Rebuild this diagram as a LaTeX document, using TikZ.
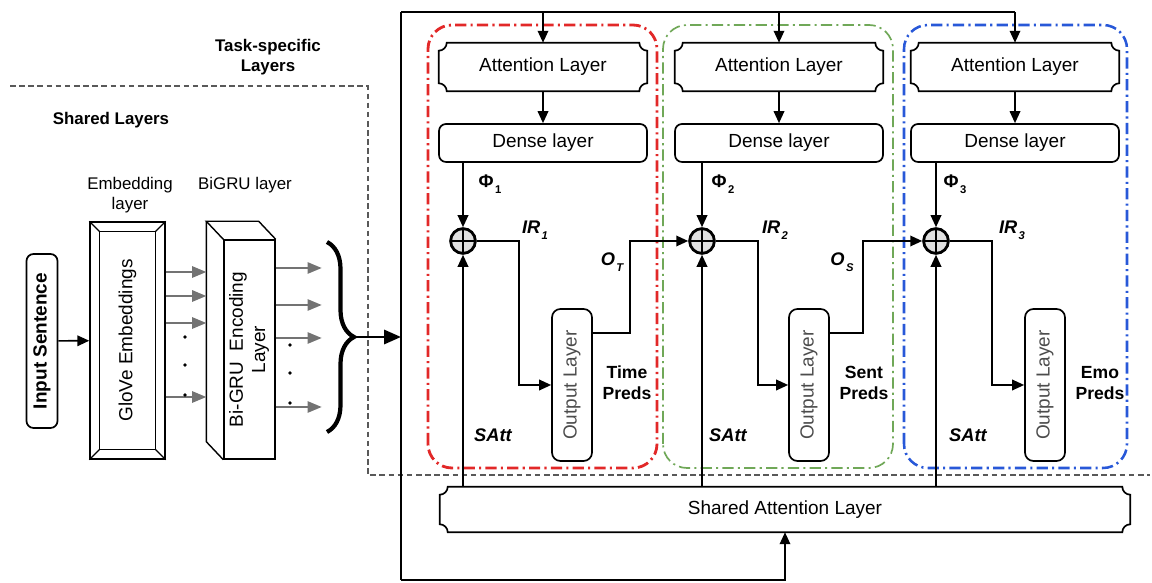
\documentclass[tikz,border=0pt]{standalone}
\usepackage{fontspec}
\setmainfont{Liberation Sans}
\usepackage{graphicx}
\usetikzlibrary{arrows.meta,decorations.pathreplacing}

\definecolor{timered}{RGB}{226,40,40}
\definecolor{sentgreen}{RGB}{112,168,88}
\definecolor{emoblue}{RGB}{40,88,216}

\newcommand{\lowidx}[1]{\hspace{1pt}\raisebox{-0.6ex}{\fontsize{8}{9}\selectfont #1}}

\tikzset{
	lbl/.style = {font=\fontsize{13.5}{16}\selectfont},
	hdr/.style = {font=\fontsize{12}{14.5}\selectfont\bfseries, align=center},
	sym/.style = {font=\fontsize{13}{15}\selectfont\bfseries\itshape},
	predlbl/.style = {font=\fontsize{12.5}{15}\selectfont\bfseries, align=center},
	layerbox/.style = {lbl, draw, line width=1.2pt, rounded corners=5pt, minimum width=5.2cm, minimum height=0.95cm},
	attbox/.style = {lbl, minimum width=5.2cm, minimum height=1.2cm},
	outbox/.style = {lbl, text=black!70, draw, line width=1.2pt, rounded corners=6pt, minimum width=1cm, minimum height=3.8cm, inner sep=0pt},
	plus/.style = {circle, draw, fill=black!12, line width=2pt, minimum size=0.62cm, inner sep=0pt,
		path picture={\draw[line width=1.6pt] (path picture bounding box.north) -- (path picture bounding box.south)
			(path picture bounding box.west) -- (path picture bounding box.east);}},
	arr/.style = {line width=1.2pt, -{Triangle[length=8.5pt,width=7.5pt]}},
	garr/.style = {line width=1.3pt, black!55, -{Triangle[length=10pt,width=8pt]}},
	task/.style = {rounded corners=0.6cm, dash pattern=on 8pt off 3pt on 1.5pt off 3pt},
	sep/.style = {black!65, line width=0.9pt, dash pattern=on 4pt off 2.5pt}
}

\begin{document}
\begin{tikzpicture}
	\useasboundingbox (0,0) rectangle (28.8,14.575);

	% shared / task-specific split
	\draw [sep] (0.25,12.425) -- (9.2,12.425) -- (9.2,2.7) -- (28.75,2.7);
	\node [hdr] (tasklbl) at (6.7,13.15) {Task-specific\\Layers};
	\node [hdr] (sharedlbl) at (2.775,11.575) {Shared Layers};
	\node [lbl, font=\fontsize{12}{14.5}\selectfont, align=center] (emblbl) at (3.25,9.7) {Embedding\\layer};
	\node [lbl, font=\fontsize{12}{14.5}\selectfont] (grulbl) at (6.125,9.95) {BiGRU layer};

	% task boxes
	\draw [task, timered, line width=2pt] (10.7,2.875) rectangle (16.425,13.95);
	\draw [task, sentgreen, line width=1.2pt] (16.575,2.875) rectangle (22.325,13.95);
	\draw [task, emoblue, line width=1.8pt] (22.6,2.875) rectangle (28.175,13.95);

	% shared layers
	\node [lbl, draw, line width=1.2pt, rounded corners=5pt, minimum width=0.775cm, minimum height=4.35cm, inner sep=0pt] (inp) at (1.05,6.05) {\rotatebox{90}{\bfseries Input Sentence}};
	\node [lbl, draw, line width=1pt, minimum width=1.875cm, minimum height=5.925cm, inner sep=0pt] (glove) at (3.1875,6.0625) {\rotatebox{90}{GloVe Embeddings}};
	\draw [line width=1pt] ([shift={(0.25,-0.25)}]glove.north west) rectangle ([shift={(-0.25,0.25)}]glove.south east);
	\foreach \a/\dx/\dy in {north west/0.25/-0.25, north east/-0.25/-0.25, south west/0.25/0.25, south east/-0.25/0.25}
		\draw [line width=1pt] (glove.\a) -- ([shift={(\dx,\dy)}]glove.\a);
	\node [lbl, draw, line width=1pt, minimum width=1.275cm, minimum height=5.475cm, inner sep=0pt] (gru) at (6.2375,5.8375) {\rotatebox{90}{\begin{tabular}{c}Bi-GRU\ \ Encoding\\Layer\end{tabular}}};
	\draw [line width=1pt] (gru.north west) -- ++(-0.425,0.45) -- ([shift={(-0.425,0.45)}]gru.north east) -- (gru.north east);
	\draw [line width=1pt] ([shift={(-0.425,0.45)}]gru.north west) -- ([shift={(-0.425,0.45)}]gru.south west) -- (gru.south west);
	\coordinate (gside) at ([xshift=-0.425cm]gru.west);

	\draw [arr] (inp) -- (glove);
	\foreach \y in {7.775,7.175,6.5,4.65}
		\draw [garr] (glove.east |- 0,\y) -- (gside |- 0,\y);
	\foreach \y in {6.15,5.45,4.7}
		\fill (4.625,\y) circle (1.4pt);
	\foreach \y in {7.875,6.95,6.125,4.4}
		\draw [garr] (gru.east |- 0,\y) -- ++(1.15,0);
	\foreach \y in {5.95,5.25,4.5}
		\fill (7.25,\y) circle (1.4pt);

	% brace into the task layers
	\draw [line width=3pt, decorate, decoration={brace, amplitude=0.675cm}] (8.175,8.525) -- (8.175,3.775);
	\coordinate (tip) at (8.925,6.15);
	\coordinate (topl) at (10.025,14.275);
	\coordinate (botl) at (10.025,0.075);
	\draw [line width=2pt, -{Triangle[length=12pt,width=10pt]}] (tip) -- (tip -| topl);

	% task-specific layers
	\foreach \i/\x in {1/13.575,2/19.475,3/25.375} {
		\node [attbox] (att\i) at (\x,12.9) {Attention Layer};
		\node [layerbox] (den\i) at (\x,11.0) {Dense layer};
	}
	\node [lbl, minimum width=17.25cm, minimum height=1.125cm] (shared) at (19.625,1.8375) {Shared Attention Layer};
	\foreach \n in {att1,att2,att3,shared}
		\draw [line width=1.2pt] ([xshift=0.2cm]\n.north west) -- ([xshift=-0.2cm]\n.north east)
			arc [start angle=180, end angle=270, radius=0.2cm] -- ([yshift=0.2cm]\n.south east)
			arc [start angle=90, end angle=180, radius=0.2cm] -- ([xshift=0.2cm]\n.south west)
			arc [start angle=0, end angle=90, radius=0.2cm] -- ([yshift=-0.2cm]\n.north west)
			arc [start angle=270, end angle=360, radius=0.2cm] -- cycle;

	\foreach \i/\x in {1/11.575,2/17.55,3/23.4}
		\node [plus] (plus\i) at (\x,8.55) {};
	\foreach \i/\x in {1/14.3,2/20.225,3/26.125}
		\node [outbox] (out\i) at (\x,4.95) {\rotatebox{90}{Output Layer}};

	\foreach \i/\x in {1/12.25,2/18.075,3/23.875}
		\node [font=\fontsize{13}{15}\selectfont\bfseries] (phi\i) at (\x,9.975) {Φ\lowidx{\i}};
	\foreach \i/\x in {1/13.375,2/19.375,3/25.3}
		\node [sym] (ir\i) at (\x,8.825) {IR\lowidx{\i}};
	\foreach \i/\x in {1/12.325,2/18.2,3/24.2}
		\node [sym] (satt\i) at (\x,3.7) {SAtt};
	\node [sym] (ot) at (15.3,8.025) {O\lowidx{T}};
	\node [sym] (os) at (21.05,8.025) {O\lowidx{S}};
	\node [predlbl] (pred1) at (15.675,5.0) {Time\\Preds};
	\node [predlbl] (pred2) at (21.6,5.0) {Sent\\Preds};
	\node [predlbl] (pred3) at (27.5,5.0) {Emo\\Preds};

	% connectors
	\draw [line width=1.2pt] (topl) -- (botl);
	\draw [line width=1.2pt] (topl) -- (topl -| att3.north);
	\draw [arr] (botl) -| (shared.south);
	\foreach \i in {1,2,3} {
		\draw [arr] (topl -| att\i.north) -- (att\i.north);
		\draw [arr] (att\i) -- (den\i);
		\draw [arr] (den\i.south -| plus\i) -- (plus\i);
		\draw [arr] (shared.north -| plus\i) -- (plus\i);
		\draw [arr] (plus\i.east) -- ++(1.05,0) |- (out\i.west);
	}
	\draw [arr] ([yshift=1.3cm]out1.east) -- ++(0.925,0) |- (plus2.west);
	\draw [arr] ([yshift=1.3cm]out2.east) -- ++(0.825,0) |- (plus3.west);
\end{tikzpicture}
\end{document}
